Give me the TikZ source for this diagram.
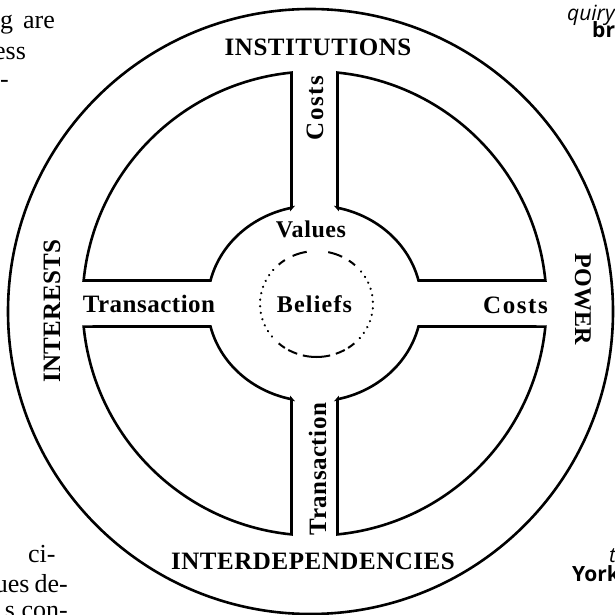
\documentclass[tikz,border=0pt]{standalone}
\usepackage{fontspec}
\setmainfont{Liberation Serif}
\newfontfamily\labfont{Liberation Serif}
\newfontfamily\fragsansfont{Open Sans}
\usetikzlibrary{calc}
\begin{document}
\begin{tikzpicture}[x=1pt,y=1pt,
  ringline/.style={draw=black,line width=2.6pt,line join=miter},
  lbl/.style 2 args={inner sep=0pt,font={\labfont\bfseries\fontsize{#1}{#1}\selectfont\addfontfeature{LetterSpace=#2}}},
  fragserif/.style={inner sep=0pt,font={\fontsize{26}{26}\selectfont}},
  fragsansit/.style={inner sep=0pt,font={\fragsansfont\itshape\fontsize{21}{21}\selectfont}},
  fragsansbf/.style={inner sep=0pt,font={\fragsansfont\bfseries\fontsize{21}{21}\selectfont}},
  beldash/.style={draw=black,line width=2pt},
  beldot/.style={draw=black,line width=2.4pt,line cap=round,dash pattern=on 0.1pt off 6.5pt}
]
\useasboundingbox (0,0) rectangle (615,-615);
\clip (0,0) rectangle (615,-615);

% outer ring
\coordinate (O) at (310.5,-311.5);
\draw[ringline] (O) circle[radius=302.5];

% centre of the cross
\coordinate (C) at (314.5,-303.5);

% four quadrant pieces
\draw[ringline] ($(C)+(23,95.7)$) -- ($(C)+(23,230.9)$)
  arc[start angle=84.31,end angle=5.69,radius=232]
  -- ($(C)+(104,23)$)
  arc[start angle=13.57,end angle=77.59,x radius=107,y radius=98] -- cycle;
\draw[ringline] ($(C)+(-23,95.7)$) -- ($(C)+(-23,230.9)$)
  arc[start angle=95.69,end angle=174.31,radius=232]
  -- ($(C)+(-104,23)$)
  arc[start angle=166.43,end angle=102.41,x radius=107,y radius=98] -- cycle;
\draw[ringline] ($(C)+(-23,-95.7)$) -- ($(C)+(-23,-230.9)$)
  arc[start angle=264.31,end angle=185.69,radius=232]
  -- ($(C)+(-104,-23)$)
  arc[start angle=193.57,end angle=257.59,x radius=107,y radius=98] -- cycle;
\draw[ringline] ($(C)+(23,-95.7)$) -- ($(C)+(23,-230.9)$)
  arc[start angle=275.69,end angle=354.31,radius=232]
  -- ($(C)+(104,-23)$)
  arc[start angle=346.43,end angle=282.41,x radius=107,y radius=98] -- cycle;

% beliefs circle (dashed top/bottom, dotted sides)
\coordinate (D) at (316.5,-304);
\foreach \s/\e in {63/78,100/115,47/55,124/132,228/236,240/250,256/284,290/300,304/312}{
  \draw[beldash] ($(D)+(\s:56.5 and 53)$) arc[start angle=\s,end angle=\e,x radius=56.5,y radius=53];
}
\draw[beldot] ($(D)+(140:56.5 and 53)$) arc[start angle=140,end angle=220,x radius=56.5,y radius=53];
\draw[beldot] ($(D)+(-40:56.5 and 53)$) arc[start angle=-40,end angle=40,x radius=56.5,y radius=53];

% labels
\node[lbl={25}{2.2}] (inst) at (318,-47) {INSTITUTIONS};
\node[lbl={25}{2.2}] (interdep) at (313,-561) {INTERDEPENDENCIES};
\node[lbl={25}{1.5},rotate=90] (interests) at (52,-311) {INTERESTS};
\node[lbl={24}{0},rotate=-90] (power) at (583,-299) {POWER};
\node[lbl={25}{6.5},rotate=90] (costtop) at (315,-108) {Costs};
\node[lbl={25}{6.5}] (costright) at (515.5,-305) {Costs};
\node[lbl={25}{2},rotate=90] (transbottom) at (317.5,-469) {Transaction};
\node[lbl={25}{2}] (transleft) at (149,-304) {Transaction};
\node[lbl={24}{2.5}] (values) at (311,-229) {Values};
\node[lbl={24}{5}] (beliefs) at (314.5,-304) {Beliefs};

% page text fragments around the figure
\node[fragserif,anchor=base west] (fragA) at (0,-29) {g\hspace{10pt}are};
\node[fragserif,anchor=base west] (fragB) at (-6,-60) {ess};
\node[fragserif,anchor=base east] (fragC) at (9,-88) {-};
\node[fragserif,anchor=base west] (fragD) at (28,-562) {ci-};
\node[fragserif,anchor=base east] (fragE) at (68,-592) {ues\hspace{5pt}de-};
\node[fragserif,anchor=base east] (fragF) at (68,-618) {s con-};
\node[fragsansit,anchor=base west] (fragG) at (567,-21) {quiry};
\node[fragsansbf,anchor=base west] (fragH) at (592,-38) {br};
\node[fragsansit,anchor=base west] (fragI) at (609,-562) {t};
\node[fragsansbf,anchor=base west] (fragJ) at (572,-581) {York};
\end{tikzpicture}
\end{document}
